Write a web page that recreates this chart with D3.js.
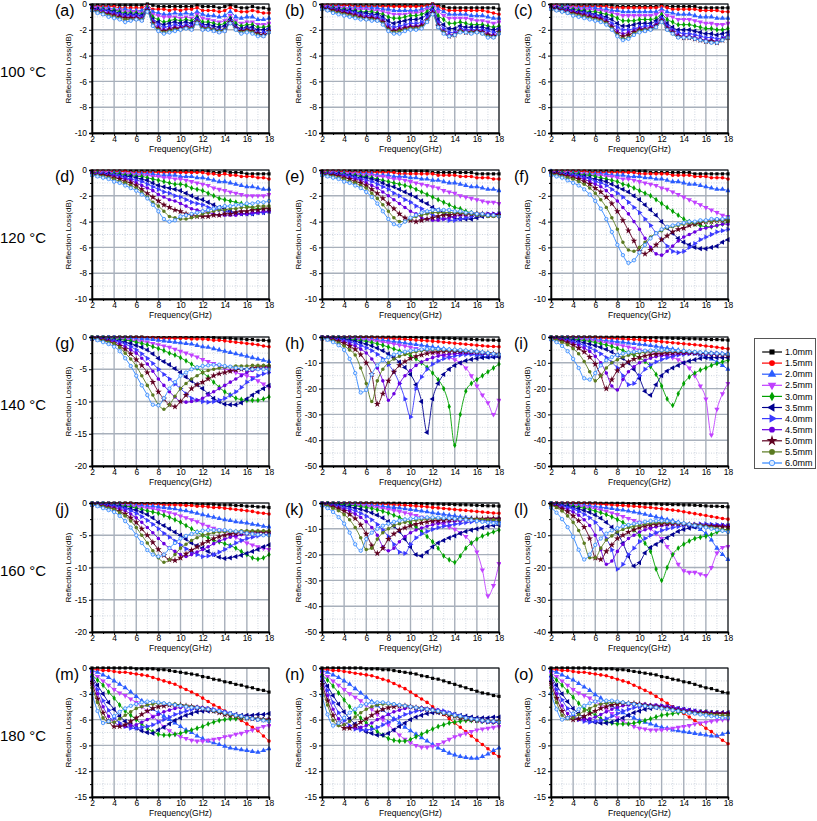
<!DOCTYPE html>
<html><head><meta charset="utf-8">
<script src="https://cdn.jsdelivr.net/npm/d3@7"></script>
<style>body{margin:0;background:#fff;} svg text{font-family:"Liberation Sans",Arial,sans-serif;}</style>
</head><body><svg id="chart" width="817" height="821"></svg>
<script>
const freq = [2,2.5,3,3.5,4,4.5,5,5.5,6,6.5,7,7.5,8,8.5,9,9.5,10,10.5,11,11.5,12,12.5,13,13.5,14,14.5,15,15.5,16,16.5,17,17.5,18];
const thickness = ["1.0mm","1.5mm","2.0mm","2.5mm","3.0mm","3.5mm","4.0mm","4.5mm","5.0mm","5.5mm","6.0mm"];
const seriesColors = ["#000000","#ff0000","#2a5cff","#c040ff","#00a000","#000090","#3a3aff","#6a00e0","#5e0020","#5a7a20","#2f86ff"];
const seriesSymbols = ["square","circle","triangle","triangleDown","diamond","triangleLeft","triangleRight","circle","star","circle","openCircle"];
const panelLabels = ["(a)","(b)","(c)","(d)","(e)","(f)","(g)","(h)","(i)","(j)","(k)","(l)","(m)","(n)","(o)"];
const rowLabels = ["100 °C","120 °C","140 °C","160 °C","180 °C"];
const yMinValues = [-10,-10,-10,-10,-10,-10,-20,-50,-50,-20,-50,-40,-15,-15,-15];
const yStepValues = [2,2,2,2,2,2,5,10,10,5,10,10,3,3,3];
const xTickValues = [2,4,6,8,10,12,14,16,18];

const rlA = [
[-0.1,-0.1,-0.1,-0.1,-0.1,-0.1,-0.1,-0.1,-0.1,-0.1,0,-0.1,-0.2,-0.2,-0.2,-0.2,-0.2,-0.2,-0.2,-0.1,-0.2,-0.2,-0.2,-0.3,-0.2,-0.1,-0.2,-0.3,-0.3,-0.2,-0.3,-0.3,-0.4],
[-0.2,-0.2,-0.2,-0.2,-0.2,-0.3,-0.3,-0.3,-0.3,-0.3,-0.1,-0.4,-0.4,-0.4,-0.5,-0.4,-0.5,-0.4,-0.4,-0.3,-0.5,-0.5,-0.5,-0.6,-0.5,-0.3,-0.5,-0.6,-0.6,-0.5,-0.6,-0.7,-0.7],
[-0.2,-0.3,-0.3,-0.3,-0.4,-0.4,-0.4,-0.5,-0.5,-0.5,-0.2,-0.6,-0.7,-0.8,-0.8,-0.7,-0.8,-0.7,-0.8,-0.6,-0.8,-0.9,-0.9,-1.0,-0.9,-0.6,-1.0,-1.1,-1.0,-1.0,-1.2,-1.2,-1.1],
[-0.3,-0.3,-0.4,-0.4,-0.5,-0.5,-0.6,-0.6,-0.6,-0.7,-0.3,-0.8,-0.9,-1.0,-1.0,-1.0,-1.1,-1.0,-1.1,-0.8,-1.1,-1.2,-1.3,-1.4,-1.3,-0.9,-1.3,-1.5,-1.4,-1.4,-1.6,-1.6,-1.5],
[-0.3,-0.4,-0.4,-0.5,-0.5,-0.6,-0.7,-0.7,-0.7,-0.8,-0.3,-1.0,-1.2,-1.4,-1.3,-1.2,-1.3,-1.2,-1.3,-1.0,-1.4,-1.4,-1.5,-1.6,-1.5,-1.1,-1.5,-1.7,-1.6,-1.6,-1.8,-1.8,-1.7],
[-0.3,-0.4,-0.5,-0.5,-0.6,-0.7,-0.8,-0.8,-0.8,-0.9,-0.4,-1.2,-1.4,-1.6,-1.5,-1.4,-1.5,-1.4,-1.5,-1.1,-1.6,-1.6,-1.7,-1.8,-1.7,-1.2,-1.7,-1.9,-1.8,-1.8,-2.0,-2.0,-1.9],
[-0.4,-0.5,-0.5,-0.6,-0.7,-0.8,-0.9,-0.9,-0.9,-1.0,-0.4,-1.3,-1.6,-1.8,-1.7,-1.6,-1.7,-1.6,-1.7,-1.2,-1.7,-1.8,-1.9,-2.0,-1.9,-1.3,-1.8,-2.0,-1.9,-2.0,-2.2,-2.2,-2.0],
[-0.4,-0.5,-0.6,-0.7,-0.8,-0.9,-1.0,-1.0,-1.0,-1.1,-0.5,-1.4,-1.8,-2.0,-1.9,-1.8,-1.8,-1.7,-1.8,-1.3,-1.8,-1.9,-2.0,-2.1,-2.0,-1.4,-1.9,-2.1,-2.0,-2.1,-2.3,-2.4,-2.1],
[-0.4,-0.6,-0.7,-0.8,-0.9,-1.0,-1.1,-1.1,-1.1,-1.2,-0.5,-1.5,-1.9,-2.1,-2.0,-1.9,-1.9,-1.8,-1.9,-1.4,-1.9,-1.9,-2.0,-2.1,-2.0,-1.4,-1.9,-2.1,-2.0,-2.1,-2.3,-2.4,-2.1],
[-0.5,-0.6,-0.7,-0.9,-1.0,-1.1,-1.2,-1.2,-1.2,-1.2,-0.6,-1.6,-2.0,-2.2,-2.1,-2.0,-2.0,-1.9,-1.9,-1.4,-1.9,-1.9,-2.0,-2.1,-2.0,-1.5,-2.0,-2.2,-2.1,-2.2,-2.4,-2.5,-2.2],
[-0.5,-0.7,-0.8,-1.0,-1.1,-1.2,-1.4,-1.3,-1.2,-1.3,-0.6,-1.7,-2.1,-2.3,-2.2,-2.1,-2.0,-1.9,-2.0,-1.5,-2.0,-2.0,-2.1,-2.2,-2.1,-1.5,-2.0,-2.3,-2.2,-2.3,-2.5,-2.5,-2.2]];

const rlB = [
[-0.1,-0.1,-0.1,-0.1,-0.1,-0.1,-0.1,-0.1,-0.1,-0.1,-0.1,-0.1,-0.1,-0.1,-0.1,-0.1,-0.1,-0.1,-0.1,-0.1,0,-0.1,-0.2,-0.3,-0.3,-0.3,-0.3,-0.3,-0.3,-0.3,-0.3,-0.3,-0.4],
[-0.1,-0.1,-0.1,-0.1,-0.1,-0.1,-0.2,-0.2,-0.2,-0.2,-0.2,-0.2,-0.2,-0.2,-0.2,-0.2,-0.2,-0.2,-0.2,-0.1,0,-0.2,-0.4,-0.5,-0.5,-0.5,-0.5,-0.5,-0.5,-0.5,-0.6,-0.7,-0.8],
[-0.2,-0.2,-0.2,-0.2,-0.3,-0.3,-0.3,-0.3,-0.3,-0.3,-0.3,-0.4,-0.4,-0.5,-0.5,-0.5,-0.5,-0.5,-0.4,-0.3,-0.1,-0.4,-0.6,-0.8,-0.8,-0.8,-0.8,-0.9,-0.9,-0.9,-1.0,-1.1,-1.1],
[-0.2,-0.2,-0.3,-0.3,-0.3,-0.4,-0.4,-0.4,-0.4,-0.5,-0.5,-0.6,-0.7,-0.8,-0.8,-0.8,-0.7,-0.7,-0.6,-0.4,-0.2,-0.6,-0.9,-1.1,-1.1,-1.1,-1.1,-1.2,-1.3,-1.3,-1.4,-1.5,-1.4],
[-0.2,-0.3,-0.3,-0.4,-0.4,-0.5,-0.5,-0.6,-0.6,-0.6,-0.7,-0.8,-1.0,-1.1,-1.1,-1.0,-0.9,-0.9,-0.8,-0.6,-0.3,-0.9,-1.2,-1.5,-1.5,-1.4,-1.5,-1.6,-1.6,-1.6,-1.7,-1.8,-1.7],
[-0.3,-0.3,-0.4,-0.4,-0.5,-0.5,-0.6,-0.7,-0.7,-0.8,-0.8,-1.0,-1.3,-1.5,-1.4,-1.3,-1.2,-1.2,-1.1,-0.8,-0.4,-1.2,-1.6,-1.9,-1.9,-1.7,-1.8,-1.8,-1.8,-1.8,-1.9,-2.0,-1.9],
[-0.3,-0.3,-0.4,-0.5,-0.6,-0.6,-0.7,-0.8,-0.9,-0.9,-1.0,-1.2,-1.6,-1.8,-1.7,-1.6,-1.5,-1.5,-1.4,-1.0,-0.5,-1.4,-1.9,-2.2,-2.2,-1.9,-2.0,-2.0,-2.0,-2.0,-2.1,-2.2,-2.0],
[-0.3,-0.4,-0.5,-0.5,-0.6,-0.7,-0.8,-0.9,-1.0,-1.0,-1.1,-1.3,-1.8,-2.0,-1.9,-1.8,-1.7,-1.7,-1.6,-1.2,-0.6,-1.6,-2.1,-2.4,-2.3,-2.0,-2.1,-2.1,-2.1,-2.1,-2.3,-2.4,-2.1],
[-0.3,-0.4,-0.5,-0.6,-0.7,-0.8,-0.9,-1.0,-1.1,-1.1,-1.2,-1.4,-1.9,-2.1,-2.0,-1.9,-1.8,-1.8,-1.7,-1.3,-0.7,-1.7,-2.2,-2.5,-2.4,-2.1,-2.2,-2.2,-2.1,-2.2,-2.4,-2.5,-2.2],
[-0.4,-0.5,-0.6,-0.7,-0.8,-0.9,-1.0,-1.1,-1.2,-1.2,-1.3,-1.5,-2.0,-2.2,-2.1,-2.0,-1.9,-1.9,-1.8,-1.3,-0.8,-1.8,-2.2,-2.5,-2.4,-2.1,-2.2,-2.2,-2.2,-2.3,-2.5,-2.6,-2.2],
[-0.4,-0.5,-0.7,-0.8,-0.9,-1.0,-1.1,-1.2,-1.2,-1.3,-1.3,-1.6,-2.1,-2.3,-2.3,-2.1,-2.0,-2.0,-1.9,-1.4,-0.8,-1.8,-2.3,-2.5,-2.4,-2.2,-2.2,-2.3,-2.2,-2.3,-2.6,-2.6,-2.3]];

const rlC = [
[-0.1,-0.1,-0.1,-0.1,-0.1,-0.1,-0.1,-0.1,-0.1,-0.1,-0.1,-0.1,-0.2,-0.2,-0.2,-0.2,-0.2,-0.2,-0.2,-0.2,-0.1,-0.2,-0.2,-0.2,-0.2,-0.2,-0.2,-0.3,-0.3,-0.3,-0.3,-0.3,-0.3],
[-0.1,-0.1,-0.2,-0.2,-0.2,-0.2,-0.2,-0.2,-0.2,-0.2,-0.2,-0.3,-0.3,-0.3,-0.3,-0.3,-0.3,-0.3,-0.3,-0.3,-0.2,-0.3,-0.4,-0.4,-0.4,-0.4,-0.4,-0.5,-0.5,-0.5,-0.5,-0.6,-0.6],
[-0.2,-0.2,-0.2,-0.2,-0.3,-0.3,-0.3,-0.3,-0.3,-0.4,-0.4,-0.5,-0.5,-0.6,-0.6,-0.6,-0.6,-0.6,-0.6,-0.6,-0.4,-0.6,-0.7,-0.8,-0.8,-0.8,-0.9,-1.0,-1.0,-1.0,-1.1,-1.1,-1.1],
[-0.2,-0.2,-0.3,-0.3,-0.3,-0.4,-0.4,-0.4,-0.5,-0.5,-0.6,-0.7,-0.8,-0.9,-0.9,-0.9,-0.9,-0.9,-0.9,-0.8,-0.6,-0.9,-1.0,-1.2,-1.2,-1.2,-1.3,-1.4,-1.5,-1.5,-1.6,-1.6,-1.5],
[-0.2,-0.3,-0.3,-0.4,-0.4,-0.5,-0.5,-0.6,-0.6,-0.7,-0.8,-0.9,-1.1,-1.3,-1.3,-1.3,-1.2,-1.2,-1.2,-1.1,-0.8,-1.2,-1.4,-1.6,-1.6,-1.6,-1.7,-1.8,-1.9,-1.9,-2.0,-2.0,-1.9],
[-0.3,-0.3,-0.4,-0.4,-0.5,-0.6,-0.6,-0.7,-0.8,-0.9,-1.0,-1.2,-1.5,-1.7,-1.7,-1.6,-1.5,-1.5,-1.5,-1.3,-1.0,-1.5,-1.8,-2.0,-2.0,-2.0,-2.1,-2.2,-2.3,-2.3,-2.4,-2.3,-2.2],
[-0.3,-0.4,-0.4,-0.5,-0.6,-0.7,-0.7,-0.8,-0.9,-1.0,-1.2,-1.5,-1.8,-2.0,-2.0,-1.9,-1.8,-1.7,-1.7,-1.5,-1.1,-1.7,-2.0,-2.2,-2.3,-2.3,-2.4,-2.5,-2.6,-2.6,-2.7,-2.6,-2.4],
[-0.3,-0.4,-0.5,-0.5,-0.6,-0.7,-0.8,-0.9,-1.0,-1.1,-1.3,-1.7,-2.1,-2.3,-2.2,-2.1,-1.9,-1.9,-1.8,-1.6,-1.2,-1.8,-2.1,-2.4,-2.5,-2.5,-2.6,-2.7,-2.8,-2.8,-2.9,-2.7,-2.5],
[-0.3,-0.4,-0.5,-0.6,-0.7,-0.8,-0.9,-1.0,-1.1,-1.2,-1.4,-1.8,-2.3,-2.5,-2.4,-2.2,-2.0,-2.0,-1.9,-1.7,-1.3,-1.9,-2.2,-2.5,-2.6,-2.6,-2.7,-2.8,-2.9,-2.9,-3.0,-2.8,-2.6],
[-0.4,-0.5,-0.6,-0.7,-0.8,-0.9,-1.0,-1.1,-1.2,-1.3,-1.5,-1.9,-2.4,-2.7,-2.6,-2.3,-2.1,-2.0,-2.0,-1.8,-1.4,-2.0,-2.3,-2.6,-2.6,-2.6,-2.7,-2.8,-2.9,-3.0,-3.0,-2.8,-2.6],
[-0.4,-0.5,-0.6,-0.7,-0.9,-1.0,-1.1,-1.2,-1.3,-1.4,-1.6,-2.0,-2.5,-2.8,-2.7,-2.4,-2.2,-2.1,-2.0,-1.8,-1.4,-2.0,-2.3,-2.6,-2.6,-2.6,-2.7,-2.8,-2.9,-3.0,-3.0,-2.8,-2.6]];

const rlD = [
[-0.1,-0.1,-0.1,-0.1,-0.1,-0.1,-0.1,-0.1,-0.1,-0.1,-0.1,-0.1,-0.1,-0.1,-0.1,-0.1,-0.1,-0.1,-0.1,-0.1,-0.1,-0.1,-0.2,-0.2,-0.1,-0.2,-0.2,-0.2,-0.3,-0.3,-0.3,-0.3,-0.3],
[-0.1,-0.1,-0.1,-0.1,-0.1,-0.1,-0.1,-0.2,-0.2,-0.2,-0.2,-0.2,-0.2,-0.2,-0.2,-0.2,-0.2,-0.2,-0.2,-0.2,-0.2,-0.3,-0.3,-0.4,-0.3,-0.4,-0.4,-0.5,-0.5,-0.5,-0.6,-0.6,-0.7],
[-0.2,-0.2,-0.2,-0.2,-0.2,-0.2,-0.3,-0.3,-0.3,-0.3,-0.3,-0.3,-0.4,-0.4,-0.4,-0.4,-0.5,-0.5,-0.5,-0.6,-0.6,-0.7,-0.8,-0.9,-0.9,-1.0,-1.1,-1.2,-1.3,-1.3,-1.4,-1.5,-1.5],
[-0.2,-0.2,-0.2,-0.2,-0.3,-0.3,-0.3,-0.3,-0.4,-0.4,-0.4,-0.5,-0.5,-0.6,-0.6,-0.7,-0.7,-0.8,-0.9,-1.0,-1.1,-1.2,-1.4,-1.5,-1.6,-1.7,-1.8,-1.9,-2.0,-2.0,-2.0,-2.0,-1.9],
[-0.2,-0.2,-0.3,-0.3,-0.3,-0.3,-0.4,-0.4,-0.5,-0.5,-0.6,-0.7,-0.8,-0.9,-1.0,-1.1,-1.1,-1.2,-1.4,-1.5,-1.6,-1.8,-2.0,-2.2,-2.3,-2.4,-2.5,-2.6,-2.8,-2.9,-3.0,-3.0,-3.0],
[-0.2,-0.3,-0.3,-0.3,-0.4,-0.4,-0.5,-0.5,-0.6,-0.7,-0.8,-1.0,-1.2,-1.3,-1.4,-1.5,-1.6,-1.8,-2.0,-2.2,-2.3,-2.5,-2.7,-2.9,-3.0,-3.2,-3.3,-3.4,-3.4,-3.4,-3.3,-3.3,-3.2],
[-0.3,-0.3,-0.3,-0.4,-0.4,-0.5,-0.6,-0.7,-0.8,-0.9,-1.1,-1.3,-1.5,-1.7,-1.8,-2.0,-2.1,-2.3,-2.5,-2.6,-2.7,-2.9,-3.0,-3.1,-3.2,-3.3,-3.4,-3.4,-3.4,-3.4,-3.3,-3.3,-3.2],
[-0.3,-0.3,-0.4,-0.4,-0.5,-0.6,-0.7,-0.8,-1.0,-1.2,-1.4,-1.6,-1.9,-2.1,-2.3,-2.4,-2.6,-2.8,-3.0,-3.1,-3.2,-3.3,-3.4,-3.5,-3.5,-3.5,-3.5,-3.4,-3.4,-3.3,-3.3,-3.2,-3.2],
[-0.3,-0.4,-0.4,-0.5,-0.6,-0.7,-0.9,-1.0,-1.2,-1.5,-1.8,-2.1,-2.4,-2.7,-2.9,-3.1,-3.2,-3.4,-3.5,-3.6,-3.6,-3.6,-3.5,-3.5,-3.4,-3.4,-3.3,-3.2,-3.2,-3.1,-3.1,-3.0,-3.0],
[-0.4,-0.4,-0.5,-0.6,-0.7,-0.9,-1.0,-1.2,-1.4,-1.7,-2.1,-2.5,-2.8,-3.2,-3.6,-3.7,-3.8,-3.8,-3.7,-3.6,-3.4,-3.3,-3.2,-3.1,-3.1,-3.0,-3.0,-2.9,-2.9,-2.9,-2.8,-2.8,-2.8],
[-0.4,-0.5,-0.6,-0.7,-0.9,-1.0,-1.2,-1.4,-1.6,-1.9,-2.2,-2.7,-3.2,-3.8,-4.0,-3.9,-3.6,-3.5,-3.4,-3.3,-3.2,-3.1,-3.0,-2.9,-2.8,-2.8,-2.7,-2.7,-2.6,-2.6,-2.5,-2.5,-2.4]];

const rlE = [
[-0.1,-0.1,-0.1,-0.1,-0.1,-0.1,-0.1,-0.1,-0.1,-0.1,-0.1,-0.1,-0.1,-0.1,-0.1,-0.1,-0.1,-0.1,-0.1,-0.1,-0.2,-0.2,-0.2,-0.2,-0.2,-0.2,-0.2,-0.2,-0.3,-0.3,-0.3,-0.3,-0.3],
[-0.1,-0.1,-0.1,-0.1,-0.1,-0.2,-0.2,-0.2,-0.2,-0.2,-0.2,-0.2,-0.2,-0.2,-0.3,-0.3,-0.3,-0.3,-0.3,-0.3,-0.3,-0.4,-0.4,-0.4,-0.4,-0.5,-0.5,-0.5,-0.6,-0.6,-0.6,-0.7,-0.7],
[-0.2,-0.2,-0.2,-0.2,-0.2,-0.3,-0.3,-0.3,-0.3,-0.3,-0.4,-0.4,-0.4,-0.5,-0.5,-0.5,-0.6,-0.6,-0.7,-0.7,-0.8,-0.8,-0.9,-1.0,-1.0,-1.1,-1.2,-1.3,-1.3,-1.4,-1.5,-1.5,-1.6],
[-0.2,-0.2,-0.2,-0.3,-0.3,-0.3,-0.3,-0.4,-0.4,-0.4,-0.5,-0.5,-0.6,-0.7,-0.7,-0.8,-0.9,-1.0,-1.1,-1.2,-1.3,-1.4,-1.6,-1.7,-1.8,-2.0,-2.1,-2.2,-2.3,-2.4,-2.5,-2.5,-2.6],
[-0.2,-0.2,-0.3,-0.3,-0.3,-0.4,-0.4,-0.5,-0.5,-0.6,-0.7,-0.8,-0.9,-1.0,-1.1,-1.2,-1.3,-1.5,-1.7,-1.9,-2.1,-2.3,-2.5,-2.7,-2.9,-3.0,-3.2,-3.3,-3.4,-3.5,-3.5,-3.5,-3.4],
[-0.2,-0.3,-0.3,-0.3,-0.4,-0.4,-0.5,-0.6,-0.6,-0.7,-0.8,-1.0,-1.2,-1.3,-1.5,-1.7,-1.9,-2.1,-2.4,-2.6,-2.9,-3.1,-3.3,-3.5,-3.7,-3.8,-3.8,-3.8,-3.7,-3.6,-3.5,-3.5,-3.4],
[-0.3,-0.3,-0.3,-0.4,-0.4,-0.5,-0.6,-0.7,-0.8,-0.9,-1.1,-1.3,-1.5,-1.8,-2.0,-2.3,-2.5,-2.8,-3.0,-3.3,-3.5,-3.7,-3.8,-3.9,-3.9,-3.8,-3.7,-3.6,-3.5,-3.5,-3.4,-3.4,-3.4],
[-0.3,-0.3,-0.4,-0.4,-0.5,-0.6,-0.7,-0.8,-1.0,-1.2,-1.4,-1.7,-2.0,-2.3,-2.6,-2.9,-3.2,-3.4,-3.7,-3.8,-3.9,-3.9,-3.8,-3.7,-3.6,-3.5,-3.5,-3.4,-3.4,-3.4,-3.4,-3.4,-3.4],
[-0.3,-0.4,-0.4,-0.5,-0.6,-0.7,-0.9,-1.0,-1.2,-1.5,-1.8,-2.2,-2.6,-3.0,-3.4,-3.7,-3.9,-4.0,-3.9,-3.8,-3.7,-3.6,-3.5,-3.5,-3.4,-3.4,-3.4,-3.4,-3.4,-3.4,-3.5,-3.5,-3.5],
[-0.4,-0.4,-0.5,-0.6,-0.7,-0.9,-1.0,-1.2,-1.4,-1.8,-2.2,-2.7,-3.2,-3.7,-4.0,-4.0,-3.8,-3.6,-3.5,-3.4,-3.3,-3.3,-3.3,-3.3,-3.3,-3.3,-3.4,-3.4,-3.5,-3.5,-3.6,-3.6,-3.6],
[-0.4,-0.5,-0.6,-0.7,-0.9,-1.0,-1.2,-1.4,-1.7,-2.1,-2.6,-3.2,-3.8,-4.2,-4.3,-4.0,-3.7,-3.5,-3.3,-3.2,-3.1,-3.1,-3.1,-3.1,-3.2,-3.2,-3.3,-3.3,-3.4,-3.4,-3.5,-3.5,-3.6]];

const rlF = [
[-0.1,-0.1,-0.1,-0.1,-0.1,-0.1,-0.1,-0.1,-0.1,-0.1,-0.1,-0.1,-0.1,-0.1,-0.1,-0.1,-0.1,-0.1,-0.2,-0.2,-0.2,-0.2,-0.2,-0.2,-0.2,-0.2,-0.3,-0.3,-0.3,-0.3,-0.3,-0.3,-0.3],
[-0.1,-0.1,-0.1,-0.1,-0.1,-0.1,-0.1,-0.2,-0.2,-0.2,-0.2,-0.2,-0.2,-0.2,-0.2,-0.2,-0.3,-0.3,-0.3,-0.3,-0.3,-0.3,-0.4,-0.4,-0.4,-0.4,-0.5,-0.5,-0.5,-0.6,-0.6,-0.6,-0.7],
[-0.1,-0.2,-0.2,-0.2,-0.2,-0.2,-0.3,-0.3,-0.3,-0.3,-0.3,-0.4,-0.4,-0.4,-0.5,-0.5,-0.5,-0.6,-0.6,-0.7,-0.7,-0.8,-0.9,-0.9,-1.0,-1.1,-1.1,-1.2,-1.3,-1.4,-1.5,-1.5,-1.6],
[-0.2,-0.2,-0.2,-0.2,-0.3,-0.3,-0.3,-0.4,-0.4,-0.4,-0.5,-0.5,-0.6,-0.7,-0.7,-0.8,-0.9,-1.0,-1.1,-1.2,-1.4,-1.5,-1.7,-1.9,-2.1,-2.3,-2.5,-2.7,-2.9,-3.1,-3.3,-3.5,-3.6],
[-0.2,-0.2,-0.2,-0.3,-0.3,-0.3,-0.4,-0.4,-0.5,-0.6,-0.7,-0.8,-0.9,-1.1,-1.2,-1.4,-1.6,-1.8,-2.0,-2.3,-2.6,-2.9,-3.2,-3.5,-3.8,-4.0,-4.2,-4.3,-4.4,-4.4,-4.3,-4.2,-4.0],
[-0.2,-0.2,-0.3,-0.3,-0.4,-0.4,-0.5,-0.6,-0.7,-0.8,-0.9,-1.1,-1.3,-1.5,-1.7,-2.0,-2.3,-2.7,-3.1,-3.5,-4.0,-4.5,-4.9,-5.3,-5.6,-5.8,-6.0,-6.1,-6.1,-6.0,-5.9,-5.6,-5.4],
[-0.2,-0.3,-0.3,-0.4,-0.4,-0.5,-0.6,-0.7,-0.9,-1.0,-1.2,-1.5,-1.8,-2.1,-2.5,-2.9,-3.3,-3.8,-4.3,-4.9,-5.4,-5.9,-6.3,-6.4,-6.3,-6.0,-5.7,-5.4,-5.2,-5.0,-4.8,-4.7,-4.6],
[-0.3,-0.3,-0.4,-0.4,-0.5,-0.6,-0.7,-0.9,-1.1,-1.3,-1.6,-2.0,-2.4,-2.9,-3.4,-4.0,-4.6,-5.3,-6.0,-6.5,-6.6,-6.3,-5.9,-5.5,-5.2,-5.0,-4.8,-4.6,-4.5,-4.4,-4.3,-4.2,-4.2],
[-0.3,-0.3,-0.4,-0.5,-0.6,-0.7,-0.9,-1.1,-1.4,-1.7,-2.1,-2.6,-3.2,-3.9,-4.7,-5.5,-6.3,-6.5,-6.2,-5.8,-5.4,-5.1,-4.8,-4.6,-4.5,-4.3,-4.2,-4.1,-4.0,-4.0,-3.9,-3.9,-3.9],
[-0.3,-0.4,-0.5,-0.6,-0.7,-0.9,-1.1,-1.4,-1.8,-2.3,-2.9,-3.7,-4.6,-5.6,-6.2,-6.3,-6.0,-5.6,-5.2,-4.9,-4.7,-4.5,-4.4,-4.3,-4.2,-4.1,-4.1,-4.0,-4.0,-4.0,-3.9,-3.9,-3.9],
[-0.4,-0.5,-0.6,-0.8,-1.0,-1.2,-1.5,-1.9,-2.4,-3.0,-3.8,-4.8,-5.8,-6.6,-7.2,-7.0,-6.4,-5.8,-5.3,-4.9,-4.6,-4.4,-4.3,-4.2,-4.1,-4.0,-4.0,-3.9,-3.9,-3.8,-3.8,-3.8,-3.7]];

const rlG = [
[0,0,0,0,0,0,0,0,0,0,-0.1,-0.1,-0.1,-0.1,-0.1,-0.1,-0.1,-0.1,-0.1,-0.1,-0.1,-0.1,-0.1,-0.2,-0.2,-0.2,-0.3,-0.3,-0.4,-0.4,-0.5,-0.5,-0.6],
[-0.1,-0.1,-0.1,-0.1,-0.1,-0.1,-0.1,-0.1,-0.1,-0.1,-0.1,-0.1,-0.2,-0.2,-0.2,-0.2,-0.2,-0.2,-0.3,-0.3,-0.3,-0.4,-0.5,-0.5,-0.6,-0.7,-0.8,-0.9,-1.0,-1.1,-1.2,-1.4,-1.5],
[-0.1,-0.1,-0.1,-0.1,-0.1,-0.2,-0.2,-0.2,-0.3,-0.3,-0.3,-0.4,-0.5,-0.6,-0.7,-0.8,-0.9,-1.0,-1.1,-1.3,-1.5,-1.6,-1.8,-2.0,-2.2,-2.4,-2.6,-2.8,-3.0,-3.2,-3.4,-3.6,-3.8],
[-0.1,-0.1,-0.2,-0.2,-0.2,-0.3,-0.4,-0.5,-0.6,-0.7,-0.8,-1.0,-1.2,-1.4,-1.6,-1.9,-2.2,-2.5,-2.8,-3.1,-3.5,-3.8,-4.1,-4.5,-4.9,-5.2,-5.5,-5.8,-6.0,-6.3,-6.8,-7.3,-7.8],
[-0.1,-0.2,-0.2,-0.3,-0.3,-0.4,-0.5,-0.6,-0.8,-1.0,-1.2,-1.5,-1.8,-2.1,-2.5,-2.8,-3.2,-3.7,-4.2,-4.8,-5.5,-6.2,-7.0,-7.8,-8.5,-9.0,-9.5,-9.7,-9.8,-9.8,-9.8,-9.6,-9.3],
[-0.2,-0.2,-0.3,-0.4,-0.5,-0.6,-0.8,-1.0,-1.3,-1.6,-2.0,-2.6,-3.3,-3.8,-4.3,-4.9,-5.5,-6.2,-6.8,-7.4,-8.0,-8.8,-9.5,-10.0,-10.4,-10.5,-10.5,-10.2,-9.6,-9.0,-8.5,-8.0,-7.5],
[-0.2,-0.3,-0.4,-0.5,-0.6,-0.8,-1.1,-1.5,-2.0,-2.6,-3.3,-4.1,-5.0,-5.8,-6.5,-7.3,-8.0,-8.8,-9.5,-9.8,-10.0,-10.1,-10.0,-9.8,-9.5,-9.0,-8.5,-7.8,-7.0,-6.5,-6.0,-5.7,-5.5],
[-0.2,-0.3,-0.4,-0.6,-0.8,-1.1,-1.5,-2.0,-2.5,-3.3,-4.2,-5.3,-6.5,-7.5,-8.5,-9.3,-10.0,-10.1,-10.0,-9.8,-9.5,-9.0,-8.5,-8.0,-7.5,-7.0,-6.5,-6.0,-5.5,-5.2,-5.0,-4.8,-4.6],
[-0.2,-0.3,-0.5,-0.7,-1.0,-1.4,-1.9,-2.6,-3.5,-4.4,-5.5,-7.0,-8.5,-9.6,-10.5,-10.8,-10.0,-9.0,-8.0,-7.4,-7.0,-6.5,-6.0,-5.7,-5.5,-5.3,-5.1,-5.0,-5.0,-4.8,-4.7,-4.6,-4.5],
[-0.2,-0.4,-0.6,-0.8,-1.0,-1.6,-2.5,-3.4,-4.5,-6.0,-7.5,-9.0,-10.5,-11.2,-10.5,-9.2,-8.0,-7.2,-6.5,-6.0,-5.5,-5.2,-5.0,-4.8,-4.7,-4.6,-4.5,-4.5,-4.5,-4.4,-4.4,-4.4,-4.4],
[-0.3,-0.5,-0.8,-1.1,-1.5,-2.2,-3.3,-4.5,-6.0,-7.5,-9.0,-10.5,-10.6,-9.5,-8.0,-7.0,-6.0,-5.5,-5.0,-4.7,-4.5,-4.4,-4.3,-4.3,-4.5,-4.6,-4.8,-4.9,-5.0,-5.0,-5.0,-5.0,-5.0]];

const rlH = [
[0,0,0,0,0,0,0,0,0,0,-0.1,-0.1,-0.1,-0.1,-0.1,-0.2,-0.2,-0.2,-0.3,-0.3,-0.4,-0.4,-0.5,-0.5,-0.6,-0.7,-0.8,-0.9,-1.0,-1.1,-1.2,-1.2,-1.3],
[0,0,0,-0.1,-0.1,-0.1,-0.2,-0.2,-0.3,-0.3,-0.4,-0.5,-0.6,-0.7,-0.8,-0.9,-1.0,-1.2,-1.3,-1.5,-1.6,-1.8,-2.0,-2.2,-2.4,-2.6,-2.8,-3.0,-3.2,-3.4,-3.6,-3.7,-3.8],
[-0.1,-0.1,-0.2,-0.2,-0.3,-0.4,-0.5,-0.6,-0.8,-0.9,-1.1,-1.3,-1.5,-1.8,-2.0,-2.3,-2.6,-2.9,-3.2,-3.5,-3.9,-4.2,-4.6,-5.0,-5.4,-5.8,-6.2,-6.6,-7.0,-7.4,-7.8,-7.6,-7.5],
[-0.1,-0.2,-0.3,-0.4,-0.5,-0.6,-0.8,-1.0,-1.2,-1.4,-1.7,-2.0,-2.3,-2.7,-3.1,-3.5,-4.0,-4.5,-5.0,-5.5,-6.0,-6.6,-7.3,-8.0,-8.8,-10.0,-12.0,-15.0,-19.0,-22.5,-25.5,-30.0,-24.5],
[-0.2,-0.3,-0.4,-0.5,-0.7,-0.9,-1.1,-1.4,-1.7,-2.1,-2.6,-3.2,-3.9,-4.6,-5.4,-6.3,-7.3,-8.5,-10.0,-11.8,-14.0,-16.5,-20.0,-27.0,-42.0,-30.0,-21.0,-18.0,-16.5,-15.0,-13.5,-12.0,-10.5],
[-0.2,-0.3,-0.5,-0.7,-0.9,-1.2,-1.6,-2.1,-2.7,-3.4,-4.3,-5.3,-6.5,-8.0,-9.7,-11.8,-14.5,-18.5,-25.0,-37.0,-24.0,-18.0,-14.5,-12.5,-11.0,-10.0,-9.2,-8.7,-8.3,-8.0,-7.8,-7.8,-7.8],
[-0.3,-0.5,-0.7,-1.0,-1.4,-1.9,-2.5,-3.3,-4.2,-5.3,-6.7,-8.5,-10.7,-13.5,-18.0,-24.0,-31.0,-20.0,-15.5,-12.5,-10.5,-9.3,-8.4,-7.8,-7.3,-7.0,-6.8,-6.7,-6.7,-6.7,-6.8,-6.9,-7.0],
[-0.3,-0.6,-0.9,-1.3,-1.9,-2.6,-3.5,-4.7,-6.2,-8.5,-12.0,-17.0,-24.5,-22.0,-18.0,-15.0,-13.0,-11.0,-9.7,-8.7,-8.0,-7.4,-7.0,-6.7,-6.5,-6.3,-6.2,-6.2,-6.2,-6.3,-6.4,-6.5,-6.6],
[-0.4,-0.7,-1.1,-1.7,-2.5,-3.5,-4.8,-6.8,-10.0,-14.5,-26.0,-22.0,-17.0,-13.5,-11.0,-9.5,-8.3,-7.5,-6.9,-6.4,-6.0,-5.8,-5.6,-5.5,-5.5,-5.5,-5.6,-5.7,-5.8,-6.0,-6.2,-6.4,-6.6],
[-0.5,-0.9,-1.5,-2.3,-3.5,-5.0,-7.0,-12.0,-18.0,-25.0,-17.0,-12.5,-10.0,-8.5,-7.5,-6.8,-6.2,-5.7,-5.3,-5.1,-5.0,-4.9,-4.9,-5.0,-5.1,-5.2,-5.4,-5.6,-5.8,-6.0,-6.2,-6.5,-6.8],
[-0.6,-1.1,-2.0,-3.2,-5.0,-8.5,-14.0,-21.5,-20.5,-14.5,-11.0,-9.0,-7.8,-6.8,-6.2,-5.7,-5.3,-5.0,-4.8,-4.7,-4.6,-4.6,-4.7,-4.8,-4.9,-5.0,-5.2,-5.4,-5.6,-5.9,-6.2,-6.5,-6.8]];

const rlI = [
[0,0,0,0,0,0,0,0,0,-0.1,-0.1,-0.1,-0.1,-0.1,-0.2,-0.2,-0.2,-0.3,-0.3,-0.3,-0.4,-0.4,-0.5,-0.5,-0.6,-0.7,-0.7,-0.8,-0.9,-1.0,-1.0,-1.1,-1.2],
[0,0,-0.1,-0.1,-0.1,-0.2,-0.2,-0.3,-0.3,-0.4,-0.5,-0.6,-0.7,-0.8,-0.9,-1.0,-1.1,-1.3,-1.4,-1.6,-1.8,-2.0,-2.2,-2.4,-2.6,-2.8,-3.0,-3.2,-3.5,-3.7,-4.0,-4.3,-4.6],
[-0.1,-0.2,-0.2,-0.3,-0.4,-0.5,-0.6,-0.8,-1.0,-1.2,-1.4,-1.6,-1.8,-2.0,-2.3,-2.5,-2.8,-3.0,-3.3,-3.6,-4.0,-4.3,-4.7,-5.1,-5.5,-6.0,-6.5,-7.0,-7.7,-8.5,-9.7,-11.0,-12.5],
[-0.2,-0.3,-0.4,-0.5,-0.7,-0.9,-1.1,-1.3,-1.6,-1.9,-2.2,-2.6,-3.0,-3.4,-3.9,-4.4,-5.0,-5.5,-6.0,-6.5,-7.0,-7.5,-8.0,-8.8,-10.0,-12.0,-15.0,-19.0,-24.0,-38.0,-28.0,-22.0,-18.0],
[-0.2,-0.3,-0.5,-0.7,-0.9,-1.1,-1.4,-1.7,-2.1,-2.6,-3.1,-3.7,-4.4,-5.2,-6.1,-7.0,-8.0,-9.5,-11.5,-14.5,-19.0,-24.0,-26.5,-22.0,-18.0,-15.5,-14.0,-12.8,-12.0,-11.0,-10.3,-9.6,-9.0],
[-0.3,-0.5,-0.7,-1.0,-1.3,-1.7,-2.2,-2.7,-3.3,-4.0,-4.8,-5.8,-7.0,-8.3,-10.0,-12.5,-16.0,-21.0,-22.5,-18.5,-15.0,-13.2,-12.0,-11.0,-10.0,-9.3,-8.8,-8.3,-8.0,-8.0,-8.0,-8.0,-8.0],
[-0.4,-0.7,-1.0,-1.4,-1.9,-2.5,-3.3,-4.2,-5.3,-6.5,-8.0,-9.8,-12.0,-15.0,-18.5,-18.0,-15.0,-12.5,-10.8,-9.6,-8.7,-8.0,-7.4,-7.0,-6.7,-6.5,-6.3,-6.2,-6.2,-6.2,-6.3,-6.4,-6.5],
[-0.5,-0.8,-1.2,-1.7,-2.4,-3.2,-4.3,-5.6,-7.5,-10.0,-14.0,-19.0,-20.5,-16.5,-13.5,-11.5,-10.0,-9.0,-8.2,-7.6,-7.2,-6.9,-6.7,-6.5,-6.4,-6.4,-6.4,-6.5,-6.6,-6.7,-6.8,-6.9,-7.0],
[-0.6,-1.0,-1.5,-2.2,-3.1,-4.3,-5.8,-7.8,-10.5,-15.0,-20.0,-16.5,-13.0,-11.0,-9.6,-8.6,-7.9,-7.3,-6.9,-6.6,-6.4,-6.2,-6.1,-6.0,-6.0,-6.1,-6.2,-6.3,-6.4,-6.5,-6.6,-6.8,-7.0],
[-0.7,-1.3,-2.0,-3.0,-4.5,-6.5,-9.5,-13.5,-17.0,-15.0,-12.0,-10.0,-8.8,-7.8,-7.1,-6.6,-6.2,-5.9,-5.7,-5.5,-5.4,-5.4,-5.4,-5.5,-5.6,-5.7,-5.8,-6.0,-6.1,-6.3,-6.4,-6.6,-6.7],
[-1.0,-2.0,-3.5,-5.5,-8.5,-12.0,-16.0,-16.5,-14.0,-11.0,-9.0,-7.8,-7.0,-6.4,-6.0,-5.7,-5.5,-5.3,-5.2,-5.1,-5.1,-5.1,-5.2,-5.3,-5.4,-5.6,-5.8,-6.0,-6.1,-6.3,-6.4,-6.5,-6.6]];

const rlJ = [
[0,0,0,0,0,0,0,0,-0.1,-0.1,-0.1,-0.1,-0.1,-0.1,-0.1,-0.1,-0.1,-0.1,-0.1,-0.2,-0.2,-0.2,-0.2,-0.3,-0.3,-0.3,-0.4,-0.4,-0.5,-0.5,-0.6,-0.6,-0.7],
[-0.1,-0.1,-0.1,-0.1,-0.1,-0.1,-0.1,-0.1,-0.2,-0.2,-0.2,-0.2,-0.2,-0.3,-0.3,-0.3,-0.3,-0.4,-0.4,-0.5,-0.5,-0.6,-0.7,-0.7,-0.8,-0.9,-1.0,-1.1,-1.2,-1.3,-1.5,-1.6,-1.7],
[-0.1,-0.1,-0.1,-0.2,-0.2,-0.2,-0.3,-0.3,-0.4,-0.4,-0.5,-0.5,-0.6,-0.7,-0.8,-0.9,-1.1,-1.2,-1.4,-1.6,-1.8,-2.0,-2.2,-2.4,-2.6,-2.7,-2.9,-3.0,-3.1,-3.3,-3.4,-3.6,-3.7],
[-0.1,-0.1,-0.2,-0.2,-0.3,-0.3,-0.4,-0.5,-0.6,-0.7,-0.8,-0.9,-1.1,-1.3,-1.5,-1.7,-2.0,-2.3,-2.6,-2.9,-3.3,-3.6,-3.9,-4.2,-4.5,-4.9,-5.3,-5.8,-6.2,-6.5,-6.8,-7.0,-7.2],
[-0.1,-0.2,-0.2,-0.3,-0.3,-0.4,-0.5,-0.6,-0.8,-1.0,-1.2,-1.4,-1.6,-1.9,-2.2,-2.6,-3.0,-3.5,-4.0,-4.5,-5.0,-5.4,-5.8,-6.0,-6.3,-6.6,-7.0,-7.5,-8.0,-8.5,-8.7,-8.5,-8.0],
[-0.1,-0.2,-0.3,-0.3,-0.4,-0.5,-0.7,-0.9,-1.1,-1.4,-1.8,-2.3,-3.0,-3.5,-4.0,-4.5,-5.0,-5.6,-6.2,-6.6,-7.0,-7.5,-8.0,-8.4,-8.6,-8.5,-8.3,-8.1,-7.8,-7.5,-7.2,-6.8,-6.5],
[-0.2,-0.2,-0.3,-0.4,-0.5,-0.7,-0.9,-1.2,-1.6,-2.1,-2.7,-3.3,-4.0,-4.7,-5.3,-5.9,-6.5,-7.1,-7.6,-8.0,-8.3,-8.2,-8.0,-7.6,-7.2,-6.7,-6.2,-5.8,-5.5,-5.3,-5.1,-4.9,-4.8],
[-0.2,-0.3,-0.4,-0.5,-0.7,-0.9,-1.2,-1.7,-2.3,-3.0,-3.8,-4.6,-5.5,-6.3,-7.0,-7.5,-8.0,-8.3,-8.0,-7.6,-7.2,-6.8,-6.3,-5.9,-5.6,-5.3,-5.1,-4.9,-4.8,-4.7,-4.6,-4.5,-4.5],
[-0.2,-0.3,-0.5,-0.7,-0.9,-1.3,-1.7,-2.3,-3.0,-4.0,-5.0,-6.1,-7.2,-8.1,-8.8,-8.9,-8.5,-7.9,-7.3,-6.8,-6.3,-5.9,-5.5,-5.2,-5.0,-4.8,-4.7,-4.6,-4.6,-4.5,-4.5,-4.5,-4.5],
[-0.2,-0.4,-0.6,-0.8,-1.0,-1.5,-2.0,-2.8,-3.8,-5.0,-6.2,-7.4,-8.5,-9.2,-8.8,-8.0,-7.0,-6.4,-5.8,-5.4,-5.0,-4.8,-4.6,-4.5,-4.5,-4.4,-4.4,-4.3,-4.3,-4.3,-4.3,-4.3,-4.3],
[-0.3,-0.5,-0.8,-1.1,-1.4,-2.0,-2.8,-3.8,-5.0,-6.2,-7.3,-8.0,-8.3,-8.0,-7.0,-6.2,-5.5,-5.1,-4.8,-4.5,-4.3,-4.2,-4.2,-4.2,-4.2,-4.3,-4.4,-4.5,-4.7,-4.8,-4.9,-5.0,-5.0]];

const rlK = [
[0,0,0,0,0,0,0,0,0,0,-0.1,-0.1,-0.1,-0.1,-0.1,-0.2,-0.2,-0.2,-0.3,-0.3,-0.4,-0.4,-0.5,-0.5,-0.6,-0.7,-0.7,-0.8,-0.9,-1.0,-1.1,-1.1,-1.2],
[0,0,0,-0.1,-0.1,-0.1,-0.2,-0.2,-0.3,-0.3,-0.4,-0.5,-0.6,-0.7,-0.8,-0.9,-1.0,-1.2,-1.3,-1.5,-1.7,-1.9,-2.1,-2.3,-2.5,-2.7,-2.9,-3.1,-3.3,-3.5,-3.7,-3.9,-4.0],
[-0.1,-0.1,-0.2,-0.2,-0.3,-0.4,-0.5,-0.6,-0.8,-0.9,-1.1,-1.3,-1.5,-1.7,-1.9,-2.2,-2.5,-2.8,-3.1,-3.4,-3.8,-4.1,-4.4,-4.7,-5.0,-5.3,-5.6,-5.9,-6.2,-6.5,-6.8,-7.0,-7.2],
[-0.1,-0.2,-0.3,-0.4,-0.5,-0.6,-0.8,-1.0,-1.2,-1.5,-1.8,-2.1,-2.5,-2.9,-3.3,-3.8,-4.3,-4.9,-5.5,-6.2,-7.0,-7.7,-8.5,-9.3,-10.2,-11.5,-13.0,-15.5,-19.0,-26.0,-36.0,-32.0,-23.5],
[-0.2,-0.3,-0.4,-0.5,-0.7,-0.9,-1.1,-1.4,-1.7,-2.1,-2.6,-3.2,-3.9,-4.7,-5.6,-6.6,-7.8,-9.3,-11.0,-13.0,-15.0,-17.5,-20.5,-22.0,-23.0,-20.5,-17.5,-15.5,-14.0,-12.8,-12.0,-11.2,-10.5],
[-0.3,-0.4,-0.6,-0.9,-1.2,-1.5,-1.9,-2.4,-3.0,-3.8,-4.7,-5.8,-7.2,-9.0,-11.0,-14.0,-17.0,-20.0,-20.5,-19.0,-17.0,-15.5,-14.5,-13.5,-12.7,-11.8,-11.0,-10.5,-10.0,-9.5,-9.0,-8.7,-8.5],
[-0.4,-0.6,-0.9,-1.3,-1.8,-2.4,-3.1,-4.0,-5.1,-6.5,-8.3,-10.5,-13.0,-16.0,-19.0,-19.5,-16.0,-13.5,-12.0,-11.0,-10.2,-9.5,-9.0,-8.6,-8.2,-7.9,-7.6,-7.3,-7.0,-6.8,-6.6,-6.4,-6.2],
[-0.5,-0.8,-1.2,-1.7,-2.4,-3.2,-4.3,-5.6,-7.3,-9.5,-12.5,-17.0,-18.5,-17.5,-15.0,-13.0,-11.5,-10.5,-9.7,-9.0,-8.4,-7.9,-7.5,-7.2,-7.0,-6.8,-6.6,-6.5,-6.4,-6.3,-6.2,-6.1,-6.0],
[-0.6,-1.0,-1.5,-2.2,-3.1,-4.4,-6.0,-8.5,-12.0,-16.5,-19.5,-17.5,-14.0,-12.0,-10.5,-9.6,-8.8,-8.2,-7.7,-7.3,-7.0,-6.8,-6.6,-6.5,-6.4,-6.3,-6.2,-6.2,-6.1,-6.1,-6.0,-6.0,-6.0],
[-0.7,-1.2,-2.0,-3.0,-4.5,-6.5,-9.5,-13.5,-18.0,-17.5,-14.0,-11.5,-10.0,-8.8,-8.0,-7.5,-7.0,-6.7,-6.4,-6.2,-6.1,-6.0,-6.0,-6.0,-6.0,-6.1,-6.2,-6.2,-6.3,-6.4,-6.5,-6.5,-6.6],
[-1.0,-2.0,-3.5,-5.5,-8.0,-11.5,-16.0,-18.5,-14.0,-11.5,-10.0,-8.8,-8.0,-7.3,-6.8,-6.4,-6.1,-5.9,-5.7,-5.6,-5.6,-5.7,-5.8,-5.9,-6.1,-6.3,-6.5,-6.7,-7.0,-7.3,-7.6,-7.8,-8.0]];

const rlL = [
[0,0,0,0,0,0,0,0,0,-0.1,-0.1,-0.1,-0.1,-0.1,-0.2,-0.2,-0.2,-0.3,-0.3,-0.3,-0.4,-0.4,-0.5,-0.5,-0.6,-0.6,-0.7,-0.8,-0.9,-1.0,-1.0,-1.1,-1.2],
[0,0,-0.1,-0.1,-0.1,-0.2,-0.2,-0.3,-0.3,-0.4,-0.5,-0.6,-0.7,-0.8,-0.9,-1.0,-1.1,-1.3,-1.4,-1.6,-1.8,-2.0,-2.2,-2.4,-2.7,-3.0,-3.3,-3.6,-3.9,-4.2,-4.5,-4.8,-5.0],
[-0.1,-0.2,-0.3,-0.4,-0.5,-0.6,-0.7,-0.9,-1.1,-1.3,-1.5,-1.7,-2.0,-2.2,-2.5,-2.8,-3.1,-3.5,-3.9,-4.3,-4.7,-5.1,-5.5,-6.0,-6.5,-7.0,-7.5,-8.2,-9.5,-11.5,-14.0,-16.0,-17.5],
[-0.2,-0.3,-0.4,-0.6,-0.8,-1.0,-1.2,-1.5,-1.8,-2.2,-2.6,-3.1,-3.6,-4.2,-4.8,-5.4,-6.0,-7.0,-8.0,-9.5,-11.0,-13.5,-16.0,-19.0,-21.0,-21.5,-21.5,-22.0,-22.5,-20.0,-15.5,-13.8,-13.5],
[-0.2,-0.4,-0.6,-0.8,-1.0,-1.3,-1.6,-2.0,-2.5,-3.0,-3.6,-4.3,-5.1,-6.0,-7.0,-8.4,-10.0,-12.5,-15.0,-20.5,-24.0,-20.0,-16.0,-14.0,-12.8,-11.8,-11.0,-10.6,-10.3,-9.8,-9.0,-8.5,-8.0],
[-0.3,-0.5,-0.7,-1.0,-1.4,-1.8,-2.3,-2.9,-3.7,-4.7,-6.0,-7.5,-9.3,-12.5,-16.5,-19.5,-18.5,-15.5,-13.8,-12.8,-11.8,-10.8,-9.8,-8.8,-8.2,-7.8,-7.5,-7.3,-7.1,-7.0,-7.0,-7.0,-7.0],
[-0.4,-0.7,-1.0,-1.4,-1.9,-2.6,-3.5,-4.6,-6.0,-8.0,-11.0,-14.5,-20.5,-19.0,-16.0,-14.0,-12.0,-11.0,-10.0,-9.2,-8.5,-8.0,-7.6,-7.3,-7.0,-6.8,-6.6,-6.5,-6.5,-6.6,-6.7,-6.8,-7.0],
[-0.5,-0.9,-1.4,-2.0,-2.8,-3.8,-5.2,-7.0,-10.0,-14.5,-19.0,-18.0,-15.0,-12.8,-11.0,-10.0,-9.0,-8.3,-7.8,-7.4,-7.0,-6.8,-6.6,-6.5,-6.5,-6.6,-6.7,-6.8,-6.9,-7.0,-7.0,-7.0,-7.0],
[-0.6,-1.1,-1.8,-2.7,-4.0,-5.5,-7.5,-11.0,-17.0,-17.5,-15.0,-13.0,-11.0,-10.0,-9.0,-8.3,-7.6,-7.1,-6.8,-6.6,-6.5,-6.4,-6.4,-6.4,-6.5,-6.6,-6.8,-7.0,-7.1,-7.2,-7.3,-7.4,-7.5],
[-0.7,-1.4,-2.5,-4.0,-6.0,-8.5,-12.5,-17.0,-17.0,-14.0,-11.5,-10.2,-9.0,-8.2,-7.6,-7.2,-7.0,-6.6,-6.3,-6.1,-6.0,-6.0,-6.1,-6.2,-6.4,-6.6,-6.8,-7.0,-7.3,-7.6,-7.9,-8.2,-8.5],
[-1.5,-3.0,-5.0,-7.5,-10.5,-14.5,-17.5,-16.0,-13.0,-11.0,-9.5,-8.5,-7.8,-7.2,-6.8,-6.4,-6.1,-5.8,-5.6,-5.5,-5.5,-5.6,-5.8,-6.0,-6.3,-6.6,-7.0,-7.3,-7.6,-8.0,-8.3,-8.6,-9.0]];

const rlM = [
[0,0,0,0,0,0,0,0,-0.1,-0.1,-0.1,-0.1,-0.2,-0.2,-0.3,-0.4,-0.5,-0.6,-0.7,-0.8,-1.0,-1.1,-1.3,-1.4,-1.6,-1.7,-1.9,-2.0,-2.2,-2.3,-2.5,-2.6,-2.8],
[-0.2,-0.2,-0.3,-0.3,-0.4,-0.5,-0.5,-0.6,-0.7,-0.8,-0.9,-1.1,-1.3,-1.5,-1.7,-1.9,-2.2,-2.5,-2.8,-3.1,-3.5,-3.9,-4.3,-4.6,-5.0,-5.3,-5.7,-6.1,-6.5,-6.9,-7.3,-7.9,-8.5],
[-0.3,-0.5,-0.8,-1.1,-1.5,-1.9,-2.3,-2.8,-3.3,-3.8,-4.3,-4.8,-5.2,-5.6,-6.0,-6.4,-6.8,-7.2,-7.5,-7.9,-8.2,-8.5,-8.7,-8.9,-9.1,-9.3,-9.4,-9.5,-9.6,-9.7,-9.8,-9.6,-9.4],
[-0.6,-1.0,-1.5,-2.0,-2.5,-2.9,-3.2,-3.6,-4.0,-4.5,-5.0,-5.6,-6.2,-6.8,-7.3,-7.7,-8.0,-8.2,-8.4,-8.5,-8.5,-8.4,-8.3,-8.2,-8.0,-7.9,-7.7,-7.6,-7.4,-7.2,-7.0,-6.8,-6.7],
[-0.8,-1.4,-2.0,-2.8,-3.5,-4.3,-5.0,-5.5,-6.0,-6.5,-7.0,-7.4,-7.7,-7.8,-7.8,-7.7,-7.6,-7.4,-7.2,-7.0,-6.8,-6.5,-6.3,-6.1,-6.0,-5.9,-5.9,-5.8,-5.8,-5.8,-5.9,-6.0,-6.1],
[-1.0,-2.0,-3.0,-4.0,-4.8,-5.6,-6.2,-6.6,-7.0,-7.3,-7.5,-7.6,-7.2,-6.9,-6.5,-6.1,-5.8,-5.5,-5.3,-5.1,-5.0,-5.0,-5.0,-5.1,-5.2,-5.3,-5.4,-5.5,-5.5,-5.5,-5.4,-5.4,-5.3],
[-1.2,-2.5,-3.8,-4.9,-5.8,-6.4,-6.8,-7.0,-7.0,-6.9,-6.8,-6.6,-6.3,-6.0,-5.7,-5.4,-5.2,-5.0,-4.8,-4.7,-4.7,-4.7,-4.8,-5.0,-5.1,-5.3,-5.5,-5.7,-5.8,-5.9,-6.0,-6.0,-6.0],
[-1.5,-3.0,-4.5,-5.6,-6.3,-6.7,-6.8,-6.7,-6.6,-6.3,-6.0,-5.7,-5.4,-5.1,-4.9,-4.7,-4.6,-4.5,-4.5,-4.5,-4.6,-4.7,-4.9,-5.0,-5.2,-5.4,-5.5,-5.7,-5.8,-5.9,-6.0,-6.0,-6.0],
[-1.8,-3.6,-5.2,-6.2,-6.8,-6.8,-6.6,-6.2,-5.8,-5.4,-5.0,-4.7,-4.5,-4.4,-4.3,-4.3,-4.3,-4.4,-4.5,-4.6,-4.7,-4.8,-5.0,-5.2,-5.4,-5.5,-5.6,-5.7,-5.8,-5.9,-5.9,-6.0,-6.0],
[-2.3,-4.0,-5.8,-6.3,-6.3,-5.9,-5.5,-5.1,-4.7,-4.5,-4.3,-4.2,-4.1,-4.1,-4.2,-4.2,-4.3,-4.4,-4.5,-4.6,-4.7,-4.8,-5.0,-5.1,-5.3,-5.4,-5.6,-5.7,-5.8,-5.9,-6.0,-6.0,-6.1],
[-3.0,-5.0,-6.4,-6.2,-5.6,-5.1,-4.7,-4.4,-4.2,-4.0,-3.9,-3.9,-4.0,-4.1,-4.2,-4.3,-4.4,-4.5,-4.6,-4.6,-4.7,-4.8,-4.9,-5.0,-5.2,-5.3,-5.5,-5.6,-5.8,-5.9,-6.0,-6.1,-6.2]];

const rlN = [
[0,0,0,0,0,0,0,0,-0.1,-0.1,-0.1,-0.2,-0.2,-0.3,-0.4,-0.5,-0.6,-0.7,-0.9,-1.0,-1.2,-1.3,-1.5,-1.7,-1.9,-2.1,-2.3,-2.5,-2.7,-2.9,-3.0,-3.2,-3.3],
[-0.2,-0.2,-0.3,-0.3,-0.4,-0.5,-0.6,-0.7,-0.8,-0.9,-1.1,-1.3,-1.5,-1.8,-2.1,-2.4,-2.8,-3.2,-3.6,-4.0,-4.5,-5.0,-5.4,-5.9,-6.4,-6.9,-7.4,-7.9,-8.4,-8.9,-9.4,-9.9,-10.3],
[-0.3,-0.5,-0.8,-1.1,-1.5,-1.9,-2.4,-2.9,-3.4,-3.9,-4.4,-4.9,-5.4,-5.9,-6.4,-6.9,-7.3,-7.7,-8.1,-8.5,-8.9,-9.3,-9.6,-9.9,-10.1,-10.3,-10.4,-10.5,-10.5,-10.3,-10.0,-9.6,-9.3],
[-0.6,-1.0,-1.5,-2.0,-2.5,-3.0,-3.4,-3.8,-4.3,-4.8,-5.4,-6.0,-6.6,-7.2,-7.8,-8.3,-8.7,-9.0,-9.2,-9.2,-9.1,-8.9,-8.6,-8.3,-8.0,-7.8,-7.6,-7.4,-7.2,-7.1,-7.0,-6.9,-6.8],
[-0.8,-1.4,-2.1,-2.9,-3.7,-4.5,-5.2,-5.8,-6.4,-6.9,-7.4,-7.8,-8.2,-8.4,-8.5,-8.5,-8.3,-8.0,-7.7,-7.4,-7.1,-6.8,-6.6,-6.4,-6.3,-6.2,-6.1,-6.1,-6.1,-6.2,-6.2,-6.3,-6.3],
[-1.0,-2.1,-3.2,-4.2,-5.1,-5.9,-6.5,-7.0,-7.4,-7.6,-7.8,-7.8,-7.6,-7.2,-6.8,-6.4,-6.0,-5.7,-5.5,-5.3,-5.2,-5.2,-5.2,-5.3,-5.4,-5.5,-5.6,-5.7,-5.8,-5.8,-5.8,-5.7,-5.7],
[-1.2,-2.6,-4.0,-5.2,-6.1,-6.7,-7.1,-7.2,-7.2,-7.1,-6.9,-6.6,-6.3,-6.0,-5.7,-5.4,-5.2,-5.0,-4.9,-4.8,-4.8,-4.9,-5.0,-5.2,-5.4,-5.6,-5.8,-6.0,-6.1,-6.2,-6.3,-6.3,-6.3],
[-1.5,-3.2,-4.8,-5.9,-6.6,-6.9,-7.0,-6.9,-6.7,-6.4,-6.0,-5.7,-5.4,-5.1,-4.9,-4.7,-4.6,-4.6,-4.6,-4.7,-4.8,-4.9,-5.1,-5.3,-5.5,-5.7,-5.9,-6.0,-6.1,-6.2,-6.2,-6.3,-6.3],
[-1.9,-3.8,-5.5,-6.5,-7.0,-7.0,-6.7,-6.3,-5.9,-5.5,-5.1,-4.8,-4.6,-4.5,-4.4,-4.4,-4.5,-4.6,-4.7,-4.8,-4.9,-5.1,-5.3,-5.5,-5.6,-5.8,-5.9,-6.0,-6.1,-6.1,-6.2,-6.2,-6.2],
[-2.4,-4.3,-6.1,-6.7,-6.6,-6.2,-5.7,-5.2,-4.8,-4.5,-4.3,-4.2,-4.2,-4.2,-4.3,-4.4,-4.5,-4.6,-4.7,-4.8,-4.9,-5.1,-5.3,-5.4,-5.6,-5.7,-5.9,-6.0,-6.1,-6.1,-6.2,-6.2,-6.2],
[-3.2,-5.4,-6.7,-6.4,-5.8,-5.2,-4.8,-4.4,-4.2,-4.0,-4.0,-4.0,-4.1,-4.2,-4.3,-4.4,-4.5,-4.6,-4.7,-4.8,-4.9,-5.0,-5.2,-5.3,-5.5,-5.6,-5.8,-5.9,-6.0,-6.1,-6.2,-6.2,-6.3]];

const rlO = [
[0,0,0,0,0,0,0,0,-0.1,-0.1,-0.1,-0.1,-0.2,-0.2,-0.3,-0.4,-0.5,-0.6,-0.7,-0.8,-1.0,-1.1,-1.3,-1.4,-1.6,-1.7,-1.9,-2.1,-2.3,-2.4,-2.6,-2.8,-2.9],
[-0.2,-0.2,-0.3,-0.3,-0.4,-0.5,-0.5,-0.6,-0.7,-0.8,-0.9,-1.1,-1.3,-1.5,-1.7,-2.0,-2.3,-2.6,-2.9,-3.3,-3.7,-4.1,-4.5,-4.9,-5.3,-5.7,-6.1,-6.5,-7.0,-7.4,-7.9,-8.4,-8.8],
[-0.3,-0.5,-0.8,-1.1,-1.4,-1.8,-2.2,-2.6,-3.1,-3.5,-4.0,-4.4,-4.8,-5.2,-5.5,-5.8,-6.1,-6.3,-6.5,-6.7,-6.9,-7.0,-7.2,-7.3,-7.4,-7.5,-7.6,-7.7,-7.8,-7.9,-7.9,-7.7,-7.5],
[-0.6,-1.0,-1.5,-2.0,-2.5,-2.9,-3.2,-3.5,-3.9,-4.3,-4.8,-5.3,-5.8,-6.2,-6.5,-6.8,-7.0,-7.1,-7.2,-7.2,-7.2,-7.1,-7.0,-6.9,-6.8,-6.7,-6.5,-6.4,-6.3,-6.2,-6.1,-6.0,-6.0],
[-0.8,-1.4,-2.0,-2.7,-3.4,-4.1,-4.7,-5.1,-5.5,-5.9,-6.2,-6.4,-6.5,-6.5,-6.5,-6.4,-6.3,-6.1,-5.9,-5.7,-5.5,-5.4,-5.3,-5.2,-5.1,-5.1,-5.1,-5.1,-5.1,-5.2,-5.2,-5.3,-5.3],
[-1.0,-2.0,-3.0,-3.9,-4.7,-5.3,-5.8,-6.1,-6.3,-6.4,-6.4,-6.3,-6.1,-5.8,-5.5,-5.2,-5.0,-4.8,-4.7,-4.6,-4.5,-4.5,-4.6,-4.7,-4.8,-4.9,-5.0,-5.1,-5.1,-5.2,-5.2,-5.2,-5.2],
[-1.2,-2.5,-3.7,-4.7,-5.5,-6.0,-6.2,-6.3,-6.2,-6.1,-5.9,-5.6,-5.3,-5.0,-4.8,-4.6,-4.5,-4.4,-4.4,-4.4,-4.4,-4.5,-4.6,-4.7,-4.8,-4.9,-5.0,-5.1,-5.2,-5.2,-5.3,-5.3,-5.3],
[-1.5,-3.0,-4.4,-5.3,-5.8,-6.0,-6.0,-5.9,-5.7,-5.4,-5.1,-4.8,-4.6,-4.4,-4.3,-4.2,-4.2,-4.2,-4.3,-4.3,-4.4,-4.5,-4.6,-4.7,-4.8,-4.9,-5.0,-5.1,-5.1,-5.2,-5.2,-5.2,-5.2],
[-1.8,-3.5,-5.0,-5.8,-6.0,-5.9,-5.6,-5.3,-5.0,-4.7,-4.5,-4.3,-4.2,-4.1,-4.1,-4.1,-4.2,-4.3,-4.4,-4.5,-4.6,-4.7,-4.8,-4.9,-5.0,-5.1,-5.2,-5.2,-5.2,-5.3,-5.3,-5.3,-5.3],
[-2.3,-4.0,-5.5,-5.9,-5.8,-5.4,-5.0,-4.7,-4.4,-4.2,-4.1,-4.0,-4.0,-4.0,-4.1,-4.2,-4.3,-4.4,-4.5,-4.6,-4.7,-4.8,-4.9,-5.0,-5.1,-5.2,-5.3,-5.3,-5.4,-5.4,-5.5,-5.5,-5.5],
[-3.0,-4.8,-6.0,-5.8,-5.3,-4.8,-4.4,-4.1,-3.9,-3.8,-3.8,-3.8,-3.9,-4.0,-4.1,-4.2,-4.3,-4.4,-4.5,-4.6,-4.7,-4.8,-4.9,-5.0,-5.1,-5.2,-5.3,-5.4,-5.5,-5.6,-5.7,-5.8,-5.8]];

const panelData = [rlA, rlB, rlC, rlD, rlE, rlF, rlG, rlH, rlI, rlJ, rlK, rlL, rlM, rlN, rlO];

// ---------- drawing ----------
const svg = d3.select("#chart");
const FONT = "Liberation Sans, Arial, sans-serif";
const colX = [92, 322, 551], rowY = [4, 170, 337, 503, 668], W = 177, H = 129;
const symbolTypes = {square:d3.symbolSquare, circle:d3.symbolCircle, triangle:d3.symbolTriangle,
  triangleDown:d3.symbolTriangle, triangleLeft:d3.symbolTriangle, triangleRight:d3.symbolTriangle,
  diamond:d3.symbolDiamond, star:d3.symbolStar, openCircle:d3.symbolCircle};
const symbolRotate = {triangleDown:180, triangleLeft:-90, triangleRight:90};
const symbolArea = {square:10, circle:10, triangle:12, triangleDown:12, triangleLeft:12, triangleRight:12, diamond:10, star:14, openCircle:9};

function styleMarker(sel, name, color, scale) {
  sel.attr("d", d3.symbol().type(symbolTypes[name]).size(symbolArea[name] * scale)())
     .attr("fill", name === "openCircle" ? "#dbeaff" : color)
     .attr("stroke", name === "openCircle" ? color : "none")
     .attr("stroke-width", 0.8);
}
const defs = svg.append("defs");

panelData.forEach((data, p) => {
  const r = Math.floor(p / 3), c = p % 3;
  const ox = colX[c], oy = rowY[r];
  const yMin = yMinValues[p], step = yStepValues[p];
  const x = d3.scaleLinear().domain([2, 18]).range([0, W]);
  const y = d3.scaleLinear().domain([yMin, 0]).range([H, 0]);
  const g = svg.append("g").attr("transform", `translate(${ox},${oy})`);

  const yMajor = d3.range(yMin, step / 2, step);
  const yMinor = d3.range(yMin + step / 2, 0, step);
  const xMinor = d3.range(3, 18, 2);

  const grid = g.append("g");
  grid.selectAll(".xmin").data(xMinor).join("line")
    .attr("x1", d => x(d)).attr("x2", d => x(d)).attr("y1", 0).attr("y2", H)
    .attr("stroke", "#c3cbd8").attr("stroke-width", 0.8).attr("stroke-dasharray", "1,1.5");
  grid.selectAll(".ymin").data(yMinor).join("line")
    .attr("y1", d => y(d)).attr("y2", d => y(d)).attr("x1", 0).attr("x2", W)
    .attr("stroke", "#c3cbd8").attr("stroke-width", 0.8).attr("stroke-dasharray", "1,1.5");
  grid.selectAll(".xmaj").data(xTickValues).join("line")
    .attr("x1", d => x(d)).attr("x2", d => x(d)).attr("y1", 0).attr("y2", H)
    .attr("stroke", "#a8b0bb").attr("stroke-width", 1.4);
  grid.selectAll(".ymaj").data(yMajor).join("line")
    .attr("y1", d => y(d)).attr("y2", d => y(d)).attr("x1", 0).attr("x2", W)
    .attr("stroke", "#a8b0bb").attr("stroke-width", 1.4);

  defs.append("clipPath").attr("id", "clip" + p).append("rect")
    .attr("x", -2).attr("y", -2).attr("width", W + 4).attr("height", H + 4);
  const plot = g.append("g").attr("clip-path", `url(#clip${p})`);
  const line = d3.line().x(d => x(d[0])).y(d => y(d[1])).curve(d3.curveMonotoneX);

  data.forEach((vals, s) => {
    const pts = freq.map((f, i) => [f, vals[i]]);
    const color = seriesColors[s], sym = seriesSymbols[s];
    plot.append("path").datum(pts).attr("d", line).attr("fill", "none")
      .attr("stroke", color).attr("stroke-width", 0.9);
    const rot = symbolRotate[sym] || 0;
    plot.append("g").selectAll("path").data(pts).join("path")
      .call(styleMarker, sym, color, 1)
      .attr("transform", d => `translate(${x(d[0])},${y(d[1])}) rotate(${rot})`);
  });

  g.append("rect").attr("width", W).attr("height", H).attr("fill", "none")
    .attr("stroke", "#000").attr("stroke-width", 1);

  const fmt = d => String(d);
  const ya = g.append("g").call(d3.axisLeft(y).tickValues(yMajor).tickSize(3).tickPadding(2).tickFormat(fmt));
  const ym = g.append("g").call(d3.axisLeft(y).tickValues(yMinor).tickSize(2).tickFormat(""));
  const xa = g.append("g").attr("transform", `translate(0,${H})`)
    .call(d3.axisBottom(x).tickValues(xTickValues).tickSize(3).tickPadding(0).tickFormat(fmt));
  const xm = g.append("g").attr("transform", `translate(0,${H})`)
    .call(d3.axisBottom(x).tickValues(xMinor).tickSize(2).tickFormat(""));
  [ya, ym, xa, xm].forEach(a => {
    a.attr("font-size", 8.5).attr("font-family", FONT);
    a.select(".domain").attr("stroke", "#000").attr("stroke-width", 1.3);
    a.selectAll(".tick line").attr("stroke", "#000");
  });

  g.append("text").attr("x", W / 2).attr("y", H + 19).attr("text-anchor", "middle")
    .attr("font-size", 8.5).attr("font-family", FONT).text("Frequency(GHz)");
  g.append("text").attr("transform", `translate(-24,${H / 2}) rotate(-90)`)
    .attr("text-anchor", "middle").attr("dy", "0.35em")
    .attr("font-size", 8).attr("font-family", FONT).text("Reflection Loss(dB)");

  svg.append("text").attr("x", ox - 37).attr("y", oy + 12)
    .attr("font-size", 16).attr("font-family", FONT).text(panelLabels[p]);
});

rowLabels.forEach((t, r) => {
  svg.append("text").attr("x", 0).attr("y", rowY[r] + 73)
    .attr("font-size", 15).attr("font-family", FONT).text(t);
});

// legend
const lg = svg.append("g");
lg.append("rect").attr("x", 754.5).attr("y", 338.5).attr("width", 61).attr("height", 130)
  .attr("fill", "#fff").attr("stroke", "#555").attr("stroke-width", 1);
thickness.forEach((t, i) => {
  const cy = 352 + i * 11.1;
  lg.append("line").attr("x1", 762).attr("x2", 782).attr("y1", cy).attr("y2", cy)
    .attr("stroke", seriesColors[i]).attr("stroke-width", 1.2);
  const sym = seriesSymbols[i];
  lg.append("path").call(styleMarker, sym, seriesColors[i], 2.6)
    .attr("transform", `translate(772,${cy}) rotate(${symbolRotate[sym] || 0})`);
  lg.append("text").attr("x", 785).attr("y", cy).attr("dy", "0.35em")
    .attr("font-size", 9).attr("font-family", FONT).text(t);
});
</script>
</body></html>
